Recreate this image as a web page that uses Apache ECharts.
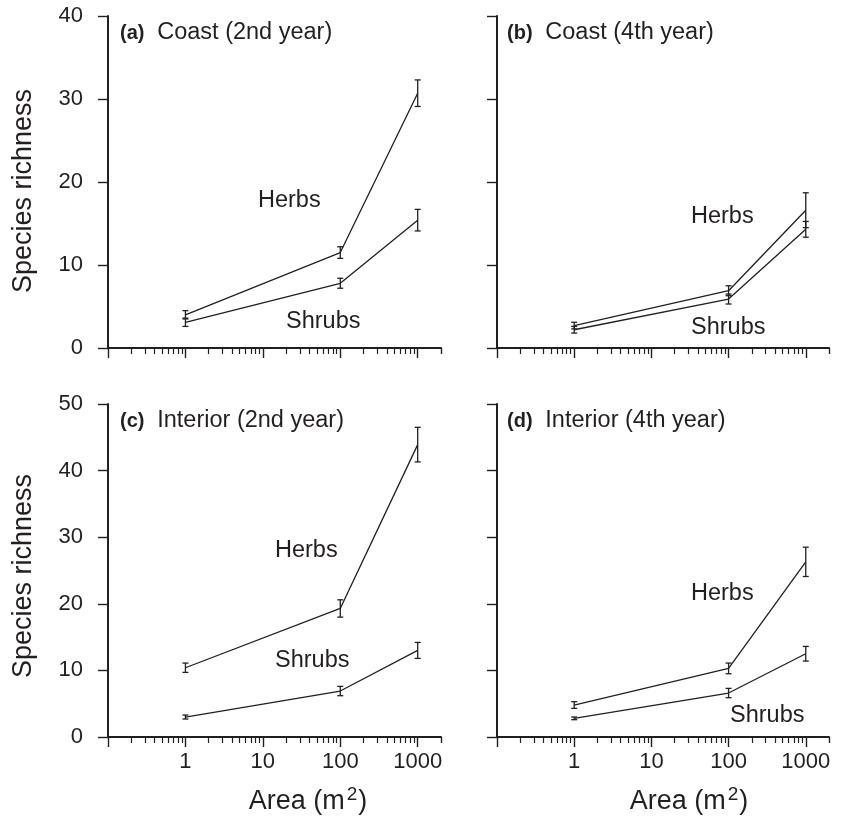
<!DOCTYPE html>
<html>
<head>
<meta charset="utf-8">
<script src="https://cdn.jsdelivr.net/npm/echarts@6/dist/echarts.min.js"></script>
<style>
html,body{margin:0;padding:0;background:#fff;}
#chart{width:853px;height:819px;}
</style>
</head>
<body>
<div id="chart"></div>
<script>
// ---- data ----
const areas = [1, 100, 1000];
const herbsA = [4.0, 11.5, 30.7];
const herbsAErr = [0.5, 0.7, 1.6];
const shrubsA = [3.1, 7.8, 15.4];
const shrubsAErr = [0.5, 0.6, 1.3];
const herbsB = [2.7, 6.9, 16.6];
const herbsBErr = [0.4, 0.6, 2.1];
const shrubsB = [2.2, 5.9, 14.3];
const shrubsBErr = [0.4, 0.6, 0.95];
const herbsC = [10.4, 19.3, 43.9];
const herbsCErr = [0.7, 1.3, 2.6];
const shrubsC = [3.0, 6.9, 13.0];
const shrubsCErr = [0.3, 0.7, 1.2];
const herbsD = [4.8, 10.3, 26.3];
const herbsDErr = [0.5, 0.8, 2.2];
const shrubsD = [2.8, 6.6, 12.5];
const shrubsDErr = [0.2, 0.7, 1.1];
const xMajorTicks = [0.1, 1, 10, 100, 1000];
const xTickLabels = [1, 10, 100, 1000];
const xMin = 0.1, xMax = 2000;
const yMaxTop = 40, yMaxBottom = 50;
const panelTitles = [
  ['(a)', 'Coast (2nd year)'],
  ['(b)', 'Coast (4th year)'],
  ['(c)', 'Interior (2nd year)'],
  ['(d)', 'Interior (4th year)']
];
const yTitle = 'Species richness';

// minor ticks 2..9 within each decade, plus 2000
const xMinorTicks = [];
xMajorTicks.forEach(d => { for (let k = 2; k <= 9; k++) { const v = +(d * k).toPrecision(6); if (v <= xMax) xMinorTicks.push(v); } });
xMinorTicks.push(2000);

const INK = '#231f20';
const FONT = '"Liberation Sans", Arial, Helvetica, sans-serif';

const panels = [
  {h: herbsA, he: herbsAErr, s: shrubsA, se: shrubsAErr, ymax: yMaxTop},
  {h: herbsB, he: herbsBErr, s: shrubsB, se: shrubsBErr, ymax: yMaxTop},
  {h: herbsC, he: herbsCErr, s: shrubsC, se: shrubsCErr, ymax: yMaxBottom},
  {h: herbsD, he: herbsDErr, s: shrubsD, se: shrubsDErr, ymax: yMaxBottom}
];

const grids = [
  {left: 108, top: 16, width: 333, height: 332},
  {left: 497, top: 16, width: 332, height: 332},
  {left: 108, top: 404, width: 333, height: 333},
  {left: 497, top: 404, width: 332, height: 333}
];

const xAxes = [], yAxes = [], series = [];
panels.forEach((p, i) => {
  xAxes.push({
    type: 'log', logBase: 10, gridIndex: i, min: xMin, max: xMax, position: 'bottom',
    axisLine: {show: true, onZero: false, lineStyle: {color: INK, width: 2}},
    axisTick: {show: true, inside: false, length: 10, customValues: xMajorTicks, lineStyle: {color: INK, width: 1.4}},
    minorTick: {show: false},
    axisLabel: {show: i >= 2, customValues: xTickLabels, margin: 14, fontSize: 22, color: INK, fontFamily: FONT,
      formatter: v => String(Math.round(v))},
    splitLine: {show: false}
  });
  xAxes.push({
    type: 'log', logBase: 10, gridIndex: i, min: xMin, max: xMax, position: 'bottom',
    axisLine: {show: false, onZero: false},
    axisTick: {show: true, inside: false, length: 6, customValues: xMinorTicks, lineStyle: {color: INK, width: 1.2}},
    minorTick: {show: false},
    axisLabel: {show: false},
    splitLine: {show: false}
  });
  yAxes.push({
    type: 'value', gridIndex: i, min: 0, max: p.ymax, interval: 10,
    axisLine: {show: true, lineStyle: {color: INK, width: 2}},
    axisTick: {show: true, inside: false, length: 10, lineStyle: {color: INK, width: 1.4}},
    axisLabel: {show: i % 2 === 0, margin: 25, fontSize: 22, color: INK, fontFamily: FONT},
    splitLine: {show: false}
  });
  const xi = i * 2;
  [[p.h, p.he], [p.s, p.se]].forEach(([vals, errs]) => {
    series.push({
      type: 'line', xAxisIndex: xi, yAxisIndex: i, symbol: 'none', silent: true,
      lineStyle: {color: INK, width: 1.3},
      data: areas.map((a, k) => [a, vals[k]])
    });
    series.push({
      type: 'custom', xAxisIndex: xi, yAxisIndex: i, silent: true,
      encode: {x: 0, y: 1},
      data: areas.map((a, k) => [a, vals[k], errs[k]]),
      renderItem: (params, api) => {
        const x = api.value(0), y = api.value(1), e = api.value(2);
        const t = api.coord([x, y + e]);
        const b = api.coord([x, y - e]);
        const w = 3;
        const st = {stroke: INK, lineWidth: 1.3};
        return {type: 'group', children: [
          {type: 'line', shape: {x1: t[0], y1: t[1], x2: b[0], y2: b[1]}, style: st},
          {type: 'line', shape: {x1: t[0] - w, y1: t[1], x2: t[0] + w, y2: t[1]}, style: st},
          {type: 'line', shape: {x1: b[0] - w, y1: b[1], x2: b[0] + w, y2: b[1]}, style: st}
        ]};
      }
    });
  });
});

// text annotations
const titlePos = [[120, 33], [507, 33], [120, 421], [507, 421]];
const seriesLabels = [
  [['Herbs', 258, 201], ['Shrubs', 286, 322]],
  [['Herbs', 691, 217], ['Shrubs', 691, 328]],
  [['Herbs', 275, 551], ['Shrubs', 275, 661]],
  [['Herbs', 691, 594], ['Shrubs', 730, 716]]
];
const graphics = [];
panelTitles.forEach((t, i) => {
  graphics.push({
    type: 'text', x: titlePos[i][0], y: titlePos[i][1],
    style: {
      text: '{b|' + t[0] + '}  {n|' + t[1] + '}',
      rich: {
        b: {fontSize: 20, fontWeight: 'bold', fill: INK, fontFamily: FONT},
        n: {fontSize: 23.5, fill: INK, fontFamily: FONT}
      },
      fontSize: 23, fontFamily: FONT, fill: INK, verticalAlign: 'middle', align: 'left'
    }
  });
  seriesLabels[i].forEach(l => {
    graphics.push({
      type: 'text', x: l[1], y: l[2],
      style: {text: l[0], fontSize: 23.5, fontFamily: FONT, fill: INK, verticalAlign: 'middle', align: 'left'}
    });
  });
});
[[24, 191], [24, 576]].forEach(p => {
  graphics.push({
    type: 'text', x: p[0], y: p[1], rotation: Math.PI / 2,
    style: {text: yTitle, fontSize: 27, fontFamily: FONT, fill: INK, align: 'center', verticalAlign: 'middle'}
  });
});
[[308, 800], [689, 800]].forEach(p => {
  graphics.push({
    type: 'text', x: p[0], y: p[1],
    style: {
      text: '{n|Area (m}{s|2}{n|)}',
      rich: {
        n: {fontSize: 27, fill: INK, fontFamily: FONT, verticalAlign: 'bottom'},
        s: {fontSize: 19, fill: INK, fontFamily: FONT, verticalAlign: 'bottom', padding: [0, 1, 11, 2]}
      },
      align: 'center', verticalAlign: 'middle'
    }
  });
});

const chart = echarts.init(document.getElementById('chart'), null, {renderer: 'canvas'});
chart.setOption({
  animation: false,
  backgroundColor: '#fff',
  grid: grids,
  xAxis: xAxes,
  yAxis: yAxes,
  series: series,
  graphic: graphics
});
</script>
</body>
</html>
